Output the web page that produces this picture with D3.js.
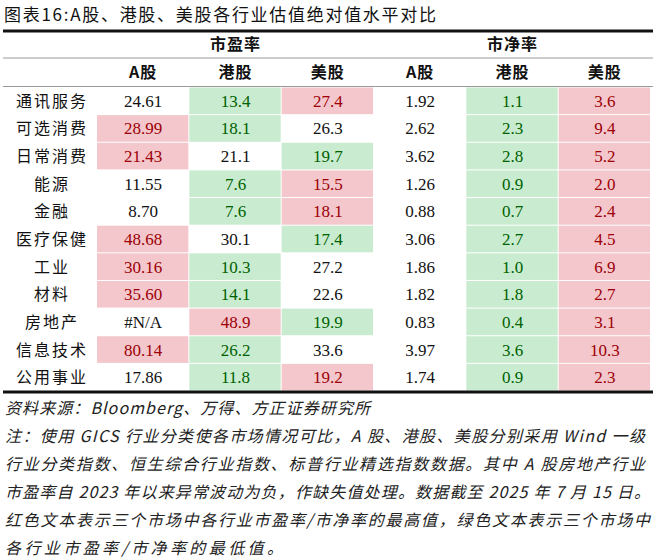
<!DOCTYPE html>
<html><head><meta charset="utf-8">
<script src="https://cdn.jsdelivr.net/npm/d3@7"></script>
<style>body{margin:0;background:#fff}</style>
</head><body><div id="chart"></div>
<script>
// data
const sectors = ["通讯服务","可选消费","日常消费","能源","金融","医疗保健","工业","材料","房地产","信息技术","公用事业"];
const markets = ["A股","港股","美股"];
const peA  = ["24.61","28.99","21.43","11.55","8.70","48.68","30.16","35.60","#N/A","80.14","17.86"];
const peHK = ["13.4","18.1","21.1","7.6","7.6","30.1","10.3","14.1","48.9","26.2","11.8"];
const peUS = ["27.4","26.3","19.7","15.5","18.1","17.4","27.2","22.6","19.9","33.6","19.2"];
const pbA  = ["1.92","2.62","3.62","1.26","0.88","3.06","1.86","1.82","0.83","3.97","1.74"];
const pbHK = ["1.1","2.3","2.8","0.9","0.7","2.7","1.0","1.8","0.4","3.6","0.9"];
const pbUS = ["3.6","9.4","5.2","2.0","2.4","4.5","6.9","2.7","3.1","10.3","2.3"];
const groups = ["市盈率","市净率"];
const notes = [
  "资料来源：Bloomberg、万得、方正证券研究所",
  "注：使用 GICS 行业分类使各市场情况可比，A 股、港股、美股分别采用 Wind 一级",
  "行业分类指数、恒生综合行业指数、标普行业精选指数数据。其中 A 股房地产行业",
  "市盈率自 2023 年以来异常波动为负，作缺失值处理。数据截至 2025 年 7 月 15 日。",
  "红色文本表示三个市场中各行业市盈率/市净率的最高值，绿色文本表示三个市场中",
  "各行业市盈率/市净率的最低值。"
];
const noteWidths = [365, 640, 640, 645, 645, 278];

const W = 660, H = 559;
const svg = d3.select("#chart").append("svg").attr("width", W).attr("height", H);
const cjk = "'Noto Sans CJK SC', sans-serif";

svg.append("text").attr("x", 4).attr("y", 21).style("font-family", cjk)
  .style("font-size", "17px").attr("fill", "#111")
  .attr("textLength", 432).attr("lengthAdjust", "spacing")
  .text("图表16:A股、港股、美股各行业估值绝对值水平对比");

const cols = d3.range(6);
const x = d3.scaleBand().domain(cols).range([97, 651]);
const y = d3.scaleBand().domain(d3.range(sectors.length)).range([87, 391]);
const series = [[peA, peHK, peUS], [pbA, pbHK, pbUS]];

// highlight cells
sectors.forEach((s, i) => {
  series.forEach((grp, g) => {
    const vals = grp.map(a => +a[i]);
    const valid = vals.filter(v => !isNaN(v));
    const mx = d3.max(valid), mn = d3.min(valid);
    grp.forEach((a, m) => {
      const c = g * 3 + m, v = vals[m];
      const hi = v === mx, lo = v === mn;
      if (hi || lo) svg.append("rect").attr("x", x(c)).attr("y", y(i) + 0.5)
        .attr("width", x.bandwidth() - 1).attr("height", y.bandwidth() - 1)
        .attr("fill", hi ? "#f4c7cc" : "#c9ecd0");
      svg.append("text").attr("x", x(c) + x.bandwidth() / 2).attr("y", y(i) + y.bandwidth() / 2 + 6)
        .attr("text-anchor", "middle").style("font-family", "'Liberation Serif', serif")
        .style("font-size", "17px").attr("fill", hi ? "#9c0006" : lo ? "#006100" : "#111")
        .text(a[i]);
    });
  });
  svg.append("text").attr("x", 52).attr("y", y(i) + y.bandwidth() / 2 + 6)
    .attr("text-anchor", "middle").style("font-family", cjk).style("font-size", "16px")
    .style("letter-spacing", "2px").attr("fill", "#111").text(s);
});

// headers
groups.forEach((g, k) => {
  svg.append("text").attr("x", x(k * 3 + 1) + x.bandwidth() / 2).attr("y", 50)
    .attr("text-anchor", "middle").style("font-family", cjk).style("font-size", "16px")
    .style("font-weight", "bold").style("letter-spacing", "1px").attr("fill", "#111").text(g);
  markets.forEach((m, j) => {
    svg.append("text").attr("x", x(k * 3 + j) + x.bandwidth() / 2).attr("y", 78)
      .attr("text-anchor", "middle").style("font-family", cjk).style("font-size", "16px")
      .style("font-weight", "bold").style("letter-spacing", "1px").attr("fill", "#111").text(m);
  });
});

// rules
svg.append("line").attr("x1", 3).attr("x2", 653).attr("y1", 31).attr("y2", 31).attr("stroke", "#111").attr("stroke-width", 3);
[58, 86.5].forEach(yy => svg.append("line").attr("x1", 3).attr("x2", 653).attr("y1", yy).attr("y2", yy).attr("stroke", "#999").attr("stroke-width", 1));
svg.append("line").attr("x1", 3).attr("x2", 653).attr("y1", 392).attr("y2", 392).attr("stroke", "#111").attr("stroke-width", 3);

// notes
notes.forEach((t, i) => {
  svg.append("text").attr("x", 5).attr("y", 414 + i * 28).style("font-family", cjk)
    .style("font-size", "16px").style("font-style", "italic").attr("fill", "#222")
    .attr("textLength", noteWidths[i]).attr("lengthAdjust", "spacing").text(t);
});
</script></body></html>
